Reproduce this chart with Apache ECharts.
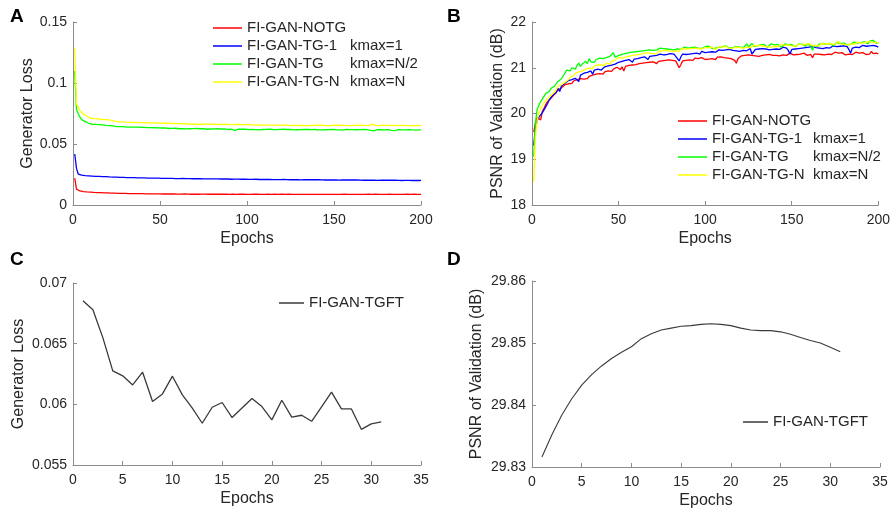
<!DOCTYPE html>
<html><head><meta charset="utf-8">
<script src="https://cdn.jsdelivr.net/npm/echarts@6/dist/echarts.min.js"></script>
<style>html,body{margin:0;padding:0;background:#fff}#c{width:893px;height:514px}</style>
</head><body><div id="c"></div>
<script>
const namesAB = ['FI-GAN-NOTG','FI-GAN-TG-1','FI-GAN-TG','FI-GAN-TG-N'];
const kmaxLabels = ['', 'kmax=1', 'kmax=N/2', 'kmax=N'];
const colorsAB = ['#ff0000','#0000ff','#00ff00','#ffff00'];
const nameCD = 'FI-GAN-TGFT';

// Panel A: generator loss, epochs 1..200
const lossNOTG = [
0.0220,0.0130,0.0120,0.0115,0.0112,0.0110,0.0108,0.0107,0.0106,0.0105,
0.0104,0.0103,0.0103,0.0102,0.0101,0.0101,0.0100,0.0100,0.0099,0.0099,
0.0098,0.0098,0.0097,0.0097,0.0097,0.0096,0.0096,0.0096,0.0095,0.0095,
0.0095,0.0094,0.0094,0.0094,0.0093,0.0094,0.0093,0.0093,0.0092,0.0093,
0.0092,0.0092,0.0092,0.0091,0.0092,0.0091,0.0091,0.0091,0.0090,0.0091,
0.0091,0.0090,0.0090,0.0091,0.0090,0.0090,0.0089,0.0090,0.0090,0.0089,
0.0090,0.0089,0.0089,0.0090,0.0089,0.0089,0.0089,0.0088,0.0089,0.0089,
0.0089,0.0088,0.0089,0.0089,0.0088,0.0089,0.0088,0.0088,0.0089,0.0088,
0.0088,0.0089,0.0088,0.0088,0.0088,0.0089,0.0088,0.0088,0.0088,0.0087,
0.0088,0.0088,0.0088,0.0087,0.0088,0.0088,0.0087,0.0088,0.0088,0.0087,
0.0088,0.0087,0.0088,0.0088,0.0087,0.0088,0.0087,0.0087,0.0088,0.0087,
0.0087,0.0088,0.0087,0.0087,0.0087,0.0088,0.0087,0.0087,0.0087,0.0088,
0.0087,0.0087,0.0087,0.0088,0.0087,0.0087,0.0087,0.0087,0.0088,0.0087,
0.0087,0.0087,0.0088,0.0087,0.0087,0.0087,0.0087,0.0087,0.0088,0.0087,
0.0087,0.0087,0.0088,0.0087,0.0087,0.0087,0.0088,0.0087,0.0087,0.0087,
0.0088,0.0087,0.0087,0.0087,0.0087,0.0088,0.0087,0.0087,0.0087,0.0087,
0.0088,0.0087,0.0087,0.0087,0.0088,0.0087,0.0087,0.0087,0.0087,0.0088,
0.0087,0.0087,0.0087,0.0088,0.0087,0.0087,0.0087,0.0087,0.0088,0.0087,
0.0087,0.0088,0.0087,0.0087,0.0087,0.0087,0.0088,0.0087,0.0087,0.0087,
0.0087,0.0088,0.0087,0.0087,0.0087,0.0088,0.0087,0.0087,0.0087,0.0087];
const lossTG1 = [
0.0418,0.0300,0.0254,0.0248,0.0245,0.0243,0.0241,0.0240,0.0239,0.0238,
0.0237,0.0236,0.0235,0.0235,0.0234,0.0233,0.0233,0.0232,0.0232,0.0231,
0.0230,0.0230,0.0229,0.0229,0.0228,0.0228,0.0227,0.0227,0.0226,0.0226,
0.0225,0.0225,0.0224,0.0225,0.0224,0.0223,0.0223,0.0224,0.0222,0.0223,
0.0222,0.0222,0.0221,0.0222,0.0221,0.0221,0.0220,0.0221,0.0220,0.0220,
0.0219,0.0220,0.0219,0.0219,0.0218,0.0219,0.0218,0.0218,0.0217,0.0218,
0.0217,0.0217,0.0218,0.0216,0.0217,0.0216,0.0216,0.0217,0.0215,0.0216,
0.0215,0.0216,0.0215,0.0215,0.0214,0.0215,0.0214,0.0215,0.0214,0.0213,
0.0214,0.0213,0.0214,0.0213,0.0213,0.0212,0.0213,0.0212,0.0213,0.0212,
0.0211,0.0212,0.0212,0.0211,0.0212,0.0211,0.0211,0.0210,0.0211,0.0211,
0.0210,0.0211,0.0210,0.0209,0.0211,0.0210,0.0209,0.0210,0.0209,0.0210,
0.0209,0.0208,0.0210,0.0209,0.0208,0.0209,0.0208,0.0209,0.0208,0.0208,
0.0209,0.0207,0.0208,0.0209,0.0207,0.0208,0.0207,0.0208,0.0207,0.0208,
0.0206,0.0207,0.0208,0.0206,0.0207,0.0206,0.0207,0.0206,0.0207,0.0206,
0.0207,0.0205,0.0206,0.0207,0.0205,0.0206,0.0205,0.0206,0.0205,0.0206,
0.0205,0.0206,0.0204,0.0205,0.0206,0.0204,0.0205,0.0204,0.0205,0.0204,
0.0205,0.0204,0.0205,0.0203,0.0204,0.0205,0.0203,0.0204,0.0203,0.0204,
0.0203,0.0204,0.0203,0.0204,0.0202,0.0203,0.0204,0.0202,0.0203,0.0202,
0.0203,0.0202,0.0203,0.0202,0.0203,0.0201,0.0202,0.0203,0.0201,0.0202,
0.0202,0.0201,0.0202,0.0203,0.0201,0.0202,0.0201,0.0202,0.0201,0.0202];
const lossTG = [
0.1098,0.0780,0.0765,0.0720,0.0700,0.0690,0.0683,0.0676,0.0670,0.0664,
0.0662,0.0660,0.0661,0.0658,0.0659,0.0656,0.0657,0.0655,0.0653,0.0654,
0.0651,0.0652,0.0648,0.0646,0.0643,0.0645,0.0642,0.0641,0.0643,0.0640,
0.0639,0.0641,0.0638,0.0637,0.0639,0.0636,0.0638,0.0635,0.0637,0.0634,
0.0636,0.0633,0.0635,0.0632,0.0634,0.0631,0.0633,0.0630,0.0632,0.0629,
0.0631,0.0628,0.0632,0.0629,0.0627,0.0630,0.0628,0.0626,0.0629,0.0627,
0.0625,0.0628,0.0626,0.0629,0.0624,0.0627,0.0625,0.0623,0.0626,0.0624,
0.0627,0.0623,0.0625,0.0622,0.0626,0.0624,0.0621,0.0625,0.0623,0.0620,
0.0624,0.0622,0.0625,0.0621,0.0623,0.0620,0.0624,0.0622,0.0619,0.0623,
0.0621,0.0618,0.0612,0.0620,0.0622,0.0619,0.0621,0.0618,0.0622,0.0620,
0.0617,0.0621,0.0619,0.0622,0.0618,0.0620,0.0616,0.0621,0.0619,0.0617,
0.0620,0.0618,0.0621,0.0617,0.0619,0.0622,0.0618,0.0616,0.0620,0.0618,
0.0621,0.0617,0.0619,0.0615,0.0620,0.0618,0.0616,0.0619,0.0617,0.0620,
0.0618,0.0615,0.0619,0.0617,0.0620,0.0616,0.0618,0.0614,0.0619,0.0617,
0.0615,0.0618,0.0616,0.0619,0.0617,0.0614,0.0618,0.0616,0.0619,0.0615,
0.0617,0.0619,0.0616,0.0618,0.0614,0.0617,0.0619,0.0615,0.0618,0.0616,
0.0618,0.0615,0.0617,0.0613,0.0618,0.0616,0.0619,0.0614,0.0617,0.0615,
0.0612,0.0616,0.0608,0.0614,0.0617,0.0615,0.0618,0.0614,0.0616,0.0613,
0.0617,0.0615,0.0612,0.0616,0.0609,0.0615,0.0617,0.0614,0.0616,0.0613,
0.0616,0.0614,0.0617,0.0612,0.0615,0.0618,0.0614,0.0613,0.0616,0.0615];
const lossTGN = [
0.1290,0.0830,0.0800,0.0770,0.0755,0.0745,0.0735,0.0728,0.0720,0.0711,
0.0712,0.0708,0.0710,0.0706,0.0707,0.0703,0.0705,0.0701,0.0699,0.0700,
0.0696,0.0694,0.0690,0.0688,0.0685,0.0683,0.0680,0.0681,0.0678,0.0679,
0.0677,0.0678,0.0676,0.0677,0.0675,0.0676,0.0674,0.0676,0.0673,0.0675,
0.0673,0.0674,0.0672,0.0673,0.0671,0.0673,0.0670,0.0672,0.0669,0.0671,
0.0669,0.0670,0.0668,0.0670,0.0667,0.0669,0.0666,0.0668,0.0666,0.0667,
0.0665,0.0667,0.0664,0.0666,0.0663,0.0665,0.0664,0.0662,0.0665,0.0663,
0.0664,0.0661,0.0663,0.0660,0.0662,0.0664,0.0661,0.0663,0.0660,0.0662,
0.0659,0.0661,0.0663,0.0660,0.0658,0.0661,0.0659,0.0662,0.0660,0.0658,
0.0661,0.0659,0.0657,0.0660,0.0658,0.0661,0.0659,0.0657,0.0660,0.0658,
0.0656,0.0659,0.0657,0.0655,0.0658,0.0656,0.0659,0.0655,0.0657,0.0654,
0.0657,0.0655,0.0658,0.0654,0.0656,0.0653,0.0656,0.0654,0.0657,0.0655,
0.0653,0.0656,0.0654,0.0651,0.0655,0.0653,0.0656,0.0652,0.0654,0.0651,
0.0654,0.0652,0.0655,0.0651,0.0653,0.0650,0.0654,0.0652,0.0650,0.0653,
0.0651,0.0654,0.0650,0.0652,0.0655,0.0651,0.0653,0.0650,0.0652,0.0654,
0.0650,0.0653,0.0651,0.0654,0.0650,0.0652,0.0655,0.0651,0.0653,0.0650,
0.0652,0.0654,0.0650,0.0653,0.0651,0.0654,0.0650,0.0652,0.0655,0.0651,
0.0653,0.0663,0.0654,0.0651,0.0653,0.0650,0.0652,0.0654,0.0650,0.0652,
0.0649,0.0652,0.0654,0.0650,0.0653,0.0651,0.0648,0.0652,0.0650,0.0653,
0.0649,0.0651,0.0654,0.0650,0.0652,0.0649,0.0651,0.0653,0.0649,0.0651];

// Panel B: PSNR of validation (dB), epochs 1..200
const psnrNOTG = [
19.60,19.80,19.92,19.95,19.86,20.05,20.12,20.20,20.26,20.30,
20.34,20.38,20.42,20.40,20.51,20.49,20.56,20.58,20.63,20.62,
20.65,20.68,20.66,20.71,20.70,20.74,20.70,20.76,20.73,20.75,
20.78,20.76,20.81,20.79,20.84,20.82,20.86,20.83,20.87,20.88,
20.86,20.91,20.89,20.93,20.95,20.92,20.97,20.94,21.01,20.99,
20.96,21.02,20.93,21.03,21.00,21.05,21.02,21.06,21.04,21.07,
21.05,21.09,21.06,21.10,21.08,21.11,21.07,21.12,21.10,21.13,
21.11,21.09,21.14,21.12,21.15,21.11,21.16,21.13,21.17,21.14,
21.16,21.18,21.15,21.12,21.00,21.07,21.15,21.18,21.16,21.19,
21.17,21.20,21.16,21.21,21.18,21.20,21.17,21.22,21.19,21.18,
21.21,21.19,21.23,21.20,21.22,21.18,21.23,21.21,21.24,21.20,
21.22,21.25,21.21,21.23,21.20,21.24,21.16,21.10,21.20,21.24,
21.26,21.23,21.27,21.25,21.28,21.24,21.27,21.30,21.26,21.28,
21.25,21.29,21.27,21.24,21.28,21.26,21.29,21.25,21.27,21.30,
21.27,21.29,21.26,21.30,21.28,21.31,21.27,21.29,21.32,21.30,
21.28,21.31,21.29,21.33,21.30,21.28,21.32,21.30,21.27,21.31,
21.29,21.22,21.30,21.26,21.30,21.32,21.29,21.31,21.28,21.32,
21.30,21.33,21.29,21.31,21.34,21.30,21.32,21.29,21.33,21.31,
21.28,21.32,21.30,21.33,21.29,21.31,21.34,21.30,21.32,21.29,
21.33,21.31,21.29,21.32,21.30,21.36,21.31,21.28,21.32,21.30];
const psnrTG1 = [
19.30,19.70,19.85,19.92,19.93,20.02,20.00,20.15,20.22,20.30,
20.35,20.40,20.38,20.46,20.55,20.48,20.60,20.62,20.66,20.70,
20.72,20.76,20.74,20.78,20.77,20.81,20.70,20.84,20.86,20.88,
20.85,20.90,20.88,20.93,20.86,20.95,20.92,20.97,20.94,20.95,
20.99,21.02,20.98,21.04,21.01,21.06,21.03,21.08,21.05,21.12,
21.09,21.14,21.11,21.16,21.13,21.18,21.15,21.12,21.19,21.16,
21.20,21.17,21.22,21.19,21.24,21.21,21.18,21.25,21.22,21.26,
21.23,21.27,21.24,21.30,21.26,21.28,21.25,21.29,21.27,21.31,
21.28,21.30,21.26,21.20,21.15,21.24,21.30,21.33,21.29,21.32,
21.30,21.34,21.31,21.35,21.32,21.34,21.30,21.36,21.33,21.33,
21.36,21.34,21.37,21.35,21.38,21.34,21.37,21.39,21.36,21.38,
21.35,21.39,21.37,21.40,21.36,21.38,21.41,21.37,21.39,21.36,
21.40,21.38,21.41,21.37,21.39,21.42,21.30,21.35,21.40,21.38,
21.41,21.39,21.42,21.38,21.41,21.43,21.39,21.42,21.40,21.43,
21.41,21.44,21.40,21.42,21.45,21.41,21.43,21.38,21.30,21.40,
21.43,21.41,21.44,21.42,21.45,21.43,21.41,21.44,21.42,21.45,
21.43,21.46,21.42,21.44,21.47,21.43,21.45,21.42,21.46,21.44,
21.47,21.43,21.45,21.48,21.44,21.46,21.43,21.47,21.45,21.48,
21.44,21.46,21.40,21.32,21.43,21.47,21.45,21.48,21.44,21.46,
21.49,21.45,21.47,21.44,21.48,21.46,21.49,21.45,21.47,21.45];
const psnrTG = [
19.06,19.80,20.10,20.18,20.26,20.32,20.38,20.44,20.46,20.48,
20.55,20.58,20.60,20.63,20.70,20.68,20.76,20.82,20.88,20.95,
20.98,20.93,21.00,21.02,20.97,21.05,21.10,21.03,21.08,21.11,
21.14,21.09,21.20,21.13,21.16,21.12,21.18,21.15,21.21,21.17,
21.20,21.16,21.22,21.19,21.25,21.21,21.33,21.23,21.26,21.27,
21.24,21.29,21.25,21.31,21.28,21.33,21.30,21.34,21.31,21.35,
21.32,21.36,21.33,21.37,21.34,21.38,21.35,21.39,21.36,21.38,
21.35,21.39,21.37,21.43,21.40,21.42,21.38,21.41,21.43,21.40,
21.42,21.39,21.43,21.41,21.44,21.40,21.42,21.45,21.41,21.43,
21.40,21.44,21.42,21.45,21.41,21.43,21.46,21.42,21.44,21.46,
21.43,21.47,21.44,21.42,21.46,21.43,21.47,21.45,21.42,21.46,
21.44,21.48,21.45,21.43,21.47,21.44,21.48,21.46,21.49,21.45,
21.47,21.44,21.48,21.52,21.46,21.49,21.53,21.47,21.50,21.48,
21.46,21.50,21.47,21.51,21.48,21.45,21.49,21.52,21.48,21.50,
21.47,21.51,21.48,21.45,21.49,21.52,21.48,21.50,21.47,21.51,
21.49,21.46,21.50,21.52,21.48,21.51,21.49,21.47,21.52,21.50,
21.48,21.38,21.49,21.51,21.47,21.52,21.49,21.53,21.50,21.52,
21.49,21.53,21.50,21.48,21.52,21.55,21.51,21.53,21.50,21.54,
21.52,21.50,21.54,21.51,21.53,21.56,21.52,21.54,21.51,21.55,
21.53,21.57,21.54,21.52,21.58,21.55,21.60,21.56,21.53,21.56];
const psnrTGN = [
18.51,19.50,19.85,20.00,20.12,20.18,20.24,20.28,20.33,20.37,
20.40,20.44,20.47,20.52,20.59,20.56,20.63,20.66,20.68,20.70,
20.74,20.79,20.76,20.83,20.88,20.85,20.91,20.89,20.93,20.95,
20.97,20.94,20.99,21.02,20.98,21.04,21.01,21.06,21.03,21.06,
21.08,21.05,21.10,21.12,21.08,21.14,21.11,21.17,21.15,21.22,
21.18,21.21,21.17,21.23,21.20,21.25,21.22,21.27,21.24,21.28,
21.25,21.29,21.26,21.31,21.28,21.33,21.29,21.32,21.35,21.31,
21.34,21.30,21.36,21.33,21.37,21.34,21.38,21.35,21.37,21.39,
21.36,21.40,21.37,21.39,21.36,21.41,21.38,21.42,21.39,21.41,
21.38,21.42,21.40,21.43,21.39,21.42,21.45,21.41,21.43,21.44,
21.41,21.44,21.42,21.45,21.43,21.40,21.44,21.46,21.42,21.45,
21.43,21.47,21.44,21.42,21.46,21.43,21.47,21.45,21.48,21.44,
21.46,21.43,21.47,21.45,21.48,21.44,21.47,21.49,21.45,21.48,
21.46,21.49,21.45,21.47,21.50,21.46,21.48,21.45,21.49,21.47,
21.50,21.46,21.48,21.51,21.47,21.49,21.46,21.50,21.48,21.48,
21.51,21.47,21.49,21.52,21.48,21.50,21.47,21.51,21.49,21.53,
21.50,21.48,21.52,21.49,21.51,21.48,21.53,21.50,21.52,21.49,
21.53,21.50,21.52,21.55,21.51,21.53,21.58,21.52,21.54,21.51,
21.53,21.50,21.54,21.52,21.55,21.51,21.53,21.56,21.52,21.54,
21.51,21.55,21.53,21.57,21.54,21.56,21.59,21.55,21.53,21.55];

// Panel C: fine-tuning generator loss, epochs 1..31
const lossTGFT = [0.06854,0.0678,0.0655,0.06276,0.06235,0.0616,0.06265,0.06023,0.06086,0.06232,
0.06078,0.05968,0.05844,0.05976,0.06015,0.05891,0.0597,0.06048,0.05982,0.05872,
0.06034,0.05894,0.0591,0.0586,0.0598,0.0610,0.05962,0.05962,0.05794,0.05839,0.05855];
// Panel D: fine-tuning PSNR, epochs 1..31
const psnrTGFT = [29.8316,29.8352,29.8384,29.8410,29.8432,29.8449,29.8463,29.8475,29.8485,29.8494,
29.8507,29.8515,29.8521,29.8524,29.8527,29.8528,29.8530,29.8531,29.8530,29.8528,
29.8524,29.8521,29.8520,29.8520,29.8518,29.8514,29.8509,29.8504,29.8500,29.8493,29.8486];

const FONT = 'Liberation Sans, Arial, sans-serif';
const TXT = '#262626';
const AX = '#8c8c8c';
const withEpochs = arr => arr.map((v, i) => [i + 1, v]);

function xAx(gi, max, interval) {
  return {gridIndex: gi, type: 'value', min: 0, max: max, interval: interval,
    name: 'Epochs', nameLocation: 'middle', nameGap: 26,
    nameTextStyle: {fontFamily: FONT, fontSize: 16, color: TXT},
    axisLine: {show: true, lineStyle: {color: AX, width: 1}},
    axisTick: {show: true, inside: true, length: 4, lineStyle: {color: AX}},
    axisLabel: {fontFamily: FONT, fontSize: 14, color: TXT, margin: 8},
    splitLine: {show: false}};
}
function yAx(gi, min, max, interval, name, gap) {
  return {gridIndex: gi, type: 'value', min: min, max: max, interval: interval,
    name: name, nameLocation: 'middle', nameGap: gap,
    nameTextStyle: {fontFamily: FONT, fontSize: 16, color: TXT},
    axisLine: {show: true, lineStyle: {color: AX, width: 1}},
    axisTick: {show: true, inside: true, length: 4, lineStyle: {color: AX}},
    axisLabel: {fontFamily: FONT, fontSize: 14, color: TXT, margin: 6},
    splitLine: {show: false}};
}
function legendAB(left, top, w) {
  return {orient: 'vertical', left: left, top: top, padding: 0, itemGap: 0, itemWidth: 29, itemHeight: 1.5,
    icon: 'rect', data: namesAB, selectedMode: false,
    formatter: name => {
      const k = kmaxLabels[namesAB.indexOf(name)];
      return k ? '{a|' + name + '}{b|' + k + '}' : '{a|' + name + '}';
    },
    textStyle: {fontFamily: FONT, fontSize: 15, color: TXT, lineHeight: 18,
      rich: {a: {width: w, fontFamily: FONT, fontSize: 15, color: TXT, lineHeight: 18},
             b: {fontFamily: FONT, fontSize: 15, color: TXT, lineHeight: 18}}}};
}
function legendCD(left, top) {
  return {orient: 'vertical', left: left, top: top, padding: 0, itemWidth: 25, itemHeight: 1.5, icon: 'rect',
    data: [nameCD], selectedMode: false,
    textStyle: {fontFamily: FONT, fontSize: 15, color: TXT, lineHeight: 18}};
}
function lineS(name, data, color, xi, lw) {
  return {type: 'line', name: name, data: data, xAxisIndex: xi, yAxisIndex: xi,
    showSymbol: false, symbol: 'none', color: color,
    lineStyle: {color: color, width: lw}, itemStyle: {color: color}};
}

const lossAB = [lossNOTG, lossTG1, lossTG, lossTGN];
const psnrAB = [psnrNOTG, psnrTG1, psnrTG, psnrTGN];
const series = [];
namesAB.forEach((n, i) => series.push(lineS(n, withEpochs(lossAB[i]), colorsAB[i], 0, 1.3)));
namesAB.forEach((n, i) => series.push(lineS(n, withEpochs(psnrAB[i]), colorsAB[i], 1, 1.3)));
series.push(lineS(nameCD, withEpochs(lossTGFT), '#3a3a3a', 2, 1.3));
series.push(lineS(nameCD, withEpochs(psnrTGFT), '#3a3a3a', 3, 1.1));

const chart = echarts.init(document.getElementById('c'), null, {renderer: 'canvas'});
chart.setOption({
  animation: false,
  backgroundColor: '#fff',
  grid: [
    {left: 73, top: 22, width: 348, height: 183},
    {left: 532, top: 22, width: 348, height: 183},
    {left: 73, top: 283, width: 348, height: 182},
    {left: 532, top: 281, width: 348, height: 186}
  ],
  xAxis: [xAx(0, 200, 50), xAx(1, 200, 50), xAx(2, 35, 5), xAx(3, 35, 5)],
  yAxis: [
    yAx(0, 0, 0.15, 0.05, 'Generator Loss', 35),
    yAx(1, 18, 22, 1, 'PSNR of Validation (dB)', 26),
    yAx(2, 0.055, 0.07, 0.005, 'Generator Loss', 46),
    yAx(3, 29.83, 29.86, 0.01, 'PSNR of Validation (dB)', 47)
  ],
  legend: [legendAB(213, 19, 103), legendAB(678, 112, 101), legendCD(279, 294), legendCD(743, 413)],
  graphic: [
    {type: 'text', left: 10, top: 7, style: {text: 'A', font: 'bold 19px ' + FONT, fill: '#000'}},
    {type: 'text', left: 447, top: 7, style: {text: 'B', font: 'bold 19px ' + FONT, fill: '#000'}},
    {type: 'text', left: 10, top: 250, style: {text: 'C', font: 'bold 19px ' + FONT, fill: '#000'}},
    {type: 'text', left: 447, top: 250, style: {text: 'D', font: 'bold 19px ' + FONT, fill: '#000'}}
  ],
  series: series
});
</script></body></html>
